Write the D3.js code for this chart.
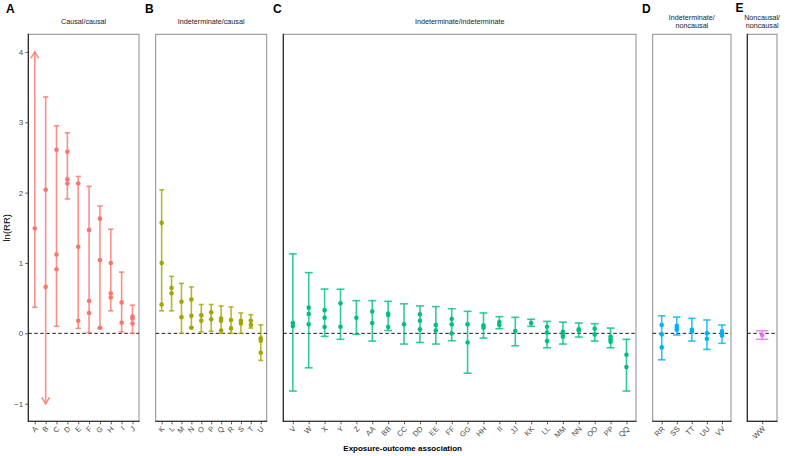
<!DOCTYPE html>
<html>
<head>
<meta charset="utf-8">
<script src="https://cdn.jsdelivr.net/npm/d3@7"></script>
<style>
  html, body { margin: 0; padding: 0; background: #fff; }
  svg { display: block; font-family: "Liberation Sans", Arial, Helvetica, sans-serif; }
</style>
</head>
<body>
<svg id="chart" width="785" height="456"></svg>
<script>
// ---------- data ----------
const yTicks = [-1, 0, 1, 2, 3, 4];

const catsA = ["A","B","C","D","E","F","G","H","I","J"];
const lowA  = [0.37, -1, 0.10, 1.91, 0.07, 0.01, 0.07, 0.32, 0.02, 0.0];
const highA = [4, 3.36, 2.95, 2.85, 2.23, 2.09, 1.81, 1.48, 0.87, 0.40];
const estA  = [[1.49],[2.04,0.66],[2.61,1.12,0.91],[2.58,2.19,2.13],[2.13,1.23,0.18],
               [1.47,0.46,0.29],[1.63,1.04,0.08],[1.00,0.57,0.51],[0.44,0.15],[0.24,0.21,0.14]];
const arrowUp = ["A"];
const arrowDown = ["B"];

const catsB = ["K","L","M","N","O","P","Q","R","S","T","U"];
const lowB  = [0.32, 0.32, 0.0, 0.08, 0.02, 0.03, 0.0, 0.0, 0.0, 0.075, -0.385];
const highB = [2.04, 0.81, 0.71, 0.66, 0.41, 0.41, 0.39, 0.375, 0.29, 0.265, 0.12];
const estB  = [[1.57,1.00,0.41],[0.645,0.57],[0.45,0.23],[0.48,0.25,0.08],[0.256,0.18],
               [0.30,0.20],[0.21,0.18,0.04],[0.19,0.07],[0.18,0.14],[0.18,0.12],[-0.07,-0.105,-0.276]];

const catsC = ["V","W","X","Y","Z","AA","BB","CC","DD","EE","FF","GG","HH","II","JJ","KK","LL","MM","NN","OO","PP","QQ"];
const lowC  = [-0.82,-0.49,-0.043,-0.085,-0.015,-0.11,0.04,-0.152,-0.13,-0.152,-0.105,-0.566,
               -0.067,0.066,-0.176,0.10,-0.205,-0.152,-0.053,-0.11,-0.205,-0.82];
const highC = [1.13,0.863,0.63,0.627,0.465,0.465,0.455,0.42,0.39,0.38,0.35,0.313,
               0.29,0.237,0.228,0.20,0.17,0.16,0.147,0.137,0.075,-0.085];
const estC  = [[0.147,0.104],[0.365,0.275,0.128],[0.33,0.22,0.09],[0.427,0.094],[0.22],[0.31,0.147],
               [0.28,0.26,0.09],[0.128],[0.27,0.18,0.057],[0.118,0.04],[0.204,0.128,0.0],[0.128,-0.13],
               [0.11,0.08],[0.16,0.118],[0.033],[0.147],[0.094,0.01,-0.11],[0.023,-0.02,-0.048],
               [0.057,0.04],[0.066,-0.015],[-0.048,-0.085,-0.12],[-0.305,-0.48]];

const catsD = ["RR","SS","TT","UU","VV"];
const lowD  = [-0.376, -0.024, -0.11, -0.228, -0.142];
const highD = [0.25, 0.232, 0.213, 0.19, 0.118];
const estD  = [[0.118,-0.015,-0.2],[0.108,0.08,0.052],[0.052,0.023],[0,-0.076],[0.028,-0.005,-0.03]];

const catsE = ["WW"];
const lowE  = [-0.085];
const highE = [0.037];
const estE  = [[-0.024]];

const groupTags   = ["A","B","C","D","E"];
const groupTitles = [["Causal/causal"],["Indeterminate/causal"],["Indeterminate/indeterminate"],
                     ["Indeterminate/","noncausal"],["Noncausal/","noncausal"]];
const groupColors = ["#F8766D","#A3A500","#00BF7D","#00B0F6","#E76BF3"];

// ---------- layout ----------
const layout = [
  {x0: 28.3,  x1: 139,   leftDark: true,  tagX: 6,   tagY: 12.5},
  {x0: 155.7, x1: 266.7, leftDark: false, tagX: 145, tagY: 12.5},
  {x0: 283.3, x1: 636,   leftDark: true,  tagX: 273, tagY: 12.5},
  {x0: 652.7, x1: 731,   leftDark: false, tagX: 642, tagY: 12.5},
  {x0: 747.3, x1: 777,   leftDark: true,  tagX: 735.5, tagY: 12}
];
const panelTop = 34.3, panelBottom = 421.3;

const groups = [
  {cats: catsA, low: lowA, high: highA, est: estA},
  {cats: catsB, low: lowB, high: highB, est: estB},
  {cats: catsC, low: lowC, high: highC, est: estC},
  {cats: catsD, low: lowD, high: highD, est: estD},
  {cats: catsE, low: lowE, high: highE, est: estE}
];

const svg = d3.select("#chart");
const y = d3.scaleLinear().domain([-1.25, 4.25]).range([panelBottom, panelTop]);

groups.forEach((g, gi) => {
  const L = layout[gi];
  const color = groupColors[gi];
  const x = d3.scalePoint().domain(g.cats).range([L.x0, L.x1]).padding(0.6);
  const step = g.cats.length > 1 ? x.step() : (L.x1 - L.x0) / 1.2;
  const capW = step * 0.5;
  const gp = svg.append("g");

  // panel border (gray)
  gp.append("rect").attr("x", L.x0).attr("y", panelTop)
    .attr("width", L.x1 - L.x0).attr("height", panelBottom - panelTop)
    .attr("fill", "none").attr("stroke", "#8c8c8c").attr("stroke-width", 1);
  // bottom axis line
  gp.append("line").attr("x1", L.x0 - 0.5).attr("x2", L.x1 + 0.5)
    .attr("y1", panelBottom).attr("y2", panelBottom).attr("stroke", "#1a1a1a").attr("stroke-width", 1.1);
  if (L.leftDark) {
    gp.append("line").attr("x1", L.x0).attr("x2", L.x0)
      .attr("y1", panelTop - 0.5).attr("y2", panelBottom + 0.5).attr("stroke", "#1a1a1a").attr("stroke-width", 1.1);
  }

  // x axis ticks + labels
  const xAxis = d3.axisBottom(x).tickSize(3).tickPadding(2);
  const ax = gp.append("g").attr("transform", `translate(0,${panelBottom})`).call(xAxis);
  ax.select(".domain").remove();
  ax.selectAll(".tick line").attr("stroke", "#333").attr("stroke-width", 0.8);
  ax.selectAll(".tick text")
    .attr("fill", "#4d4d4d").attr("font-size", 7.5)
    .attr("font-family", "Liberation Sans, Arial, sans-serif")
    .attr("text-anchor", "end").attr("dy", null).attr("y", 0)
    .attr("transform", "translate(3,8) rotate(-45)");

  // dashed zero line
  gp.append("line").attr("x1", L.x0).attr("x2", L.x1)
    .attr("y1", y(0)).attr("y2", y(0))
    .attr("stroke", "#000").attr("stroke-width", 0.9).attr("stroke-dasharray", "3.5,2.5");

  // error bars
  g.cats.forEach((c, i) => {
    const cx = x(c);
    const lo = g.low[i], hi = g.high[i];
    const eb = gp.append("g").attr("stroke", color).attr("stroke-width", 1.6)
      .attr("stroke-opacity", 0.8).attr("fill", "none");
    eb.append("line").attr("x1", cx).attr("x2", cx).attr("y1", y(lo)).attr("y2", y(hi));
    if (arrowUp.includes(c)) {
      eb.append("polyline").attr("points",
        `${cx - 4},${y(hi) + 6.5} ${cx},${y(hi)} ${cx + 4},${y(hi) + 6.5}`);
    } else {
      eb.append("line").attr("x1", cx - capW / 2).attr("x2", cx + capW / 2)
        .attr("y1", y(hi)).attr("y2", y(hi));
    }
    if (arrowDown.includes(c)) {
      eb.append("polyline").attr("points",
        `${cx - 4},${y(lo) - 6.5} ${cx},${y(lo)} ${cx + 4},${y(lo) - 6.5}`);
    } else {
      eb.append("line").attr("x1", cx - capW / 2).attr("x2", cx + capW / 2)
        .attr("y1", y(lo)).attr("y2", y(lo));
    }
    g.est[i].forEach(v => {
      gp.append("circle").attr("cx", cx).attr("cy", y(v)).attr("r", 2.3)
        .attr("fill", color);
    });
  });

  // strip title
  const t = groupTitles[gi];
  const cxm = (L.x0 + L.x1) / 2;
  t.forEach((line, li) => {
    const by = t.length === 1 ? 23.7 : 19.8 + li * 8.3;
    svg.append("text").attr("x", cxm).attr("y", by)
      .attr("text-anchor", "middle").attr("font-size", 7.2).attr("fill", "#1a1a1a").text(line);
  });
  // tag letter
  svg.append("text").attr("x", L.tagX).attr("y", L.tagY)
    .attr("font-size", 12).attr("font-weight", "bold").attr("fill", "#000").text(groupTags[gi]);
});

// y axis (panel A only)
const yAxis = d3.axisLeft(y).tickValues(yTicks).tickSize(3).tickPadding(2).tickFormat(d3.format("d"));
const yg = svg.append("g").attr("transform", `translate(${layout[0].x0},0)`).call(yAxis);
yg.select(".domain").remove();
yg.selectAll(".tick line").attr("stroke", "#333").attr("stroke-width", 0.8);
yg.selectAll(".tick text").attr("fill", "#4d4d4d").attr("font-size", 8)
  .attr("font-family", "Liberation Sans, Arial, sans-serif");

// axis titles
svg.append("text").attr("transform", `translate(10,${(panelTop + panelBottom) / 2}) rotate(-90)`)
  .attr("text-anchor", "middle").attr("font-size", 9.5).attr("fill", "#000").text("ln(RR)");
svg.append("text").attr("x", (layout[0].x0 + layout[4].x1) / 2).attr("y", 451)
  .attr("text-anchor", "middle").attr("font-size", 8).attr("font-weight", "bold")
  .attr("fill", "#000").text("Exposure-outcome association");
</script>
</body>
</html>
